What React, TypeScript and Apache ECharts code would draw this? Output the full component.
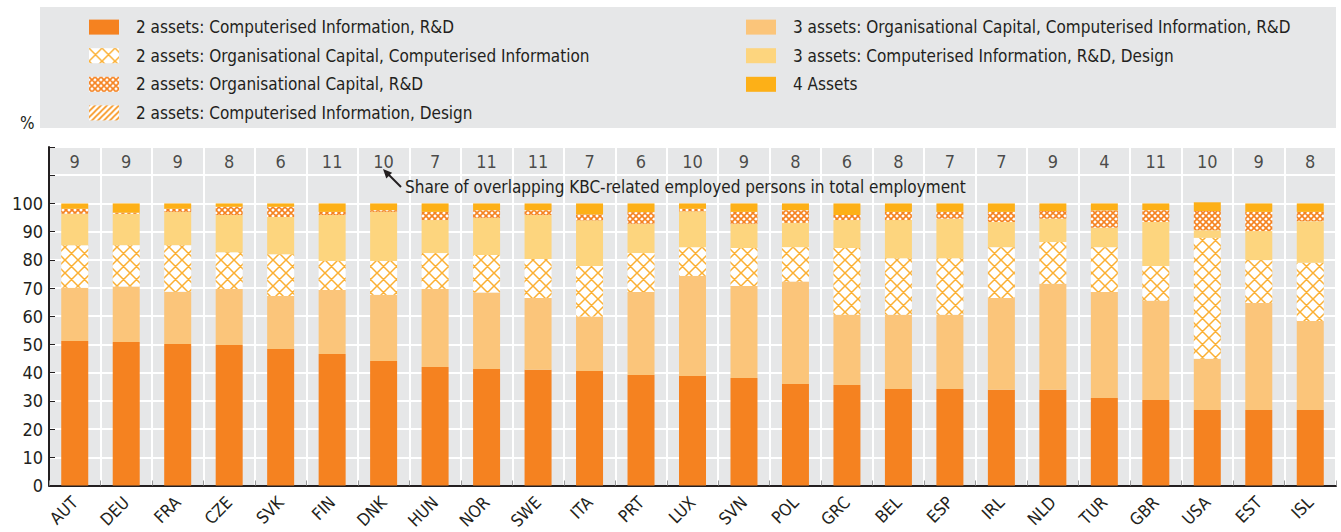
import React, { useEffect, useRef } from "react";
import * as echarts from "echarts";

const categories = ["AUT","DEU","FRA","CZE","SVK","FIN","DNK","HUN","NOR","SWE","ITA","PRT","LUX","SVN","POL","GRC","BEL","ESP","IRL","NLD","TUR","GBR","USA","EST","ISL"];
const overlapShare = [9,9,9,8,6,11,10,7,11,11,7,6,10,9,8,6,8,7,7,9,4,11,10,9,8];

const ciRd = [51.2,50.9,50.2,49.8,48.4,46.6,44.1,42.0,41.3,41.0,40.6,39.2,38.8,38.1,36.0,35.6,34.2,34.2,33.9,33.9,31.0,30.3,26.8,26.8,26.8];
const ocCiRd = [18.9,19.6,18.5,19.9,18.8,22.7,23.5,27.7,27.1,25.5,19.3,29.4,35.5,32.6,36.3,24.9,26.3,26.3,32.6,37.6,37.6,35.2,18.1,37.9,31.5];
const ocCi = [15.1,14.7,16.5,13.0,14.8,10.3,12.0,12.7,13.3,13.8,17.9,13.8,10.2,13.5,12.2,23.7,20.1,20.1,18.0,14.8,15.9,12.3,42.9,15.2,20.7];
const ciRdDesign = [11.1,11.1,11.8,13.2,13.2,16.3,17.4,11.7,13.2,15.6,16.2,10.4,12.7,8.6,8.6,9.9,13.5,14.0,8.9,8.3,6.9,15.6,2.7,10.3,14.7];
const ocRd = [1.8,0.4,1.1,2.9,3.6,1.1,0.6,2.9,2.7,1.7,2.1,4.1,0.9,4.2,4.5,1.8,2.9,2.4,3.6,2.7,6.1,4.2,6.8,6.8,3.3];
const ciDesign = [0,0,0,0,0,0,0,0,0,0,0,0,0,0,0,0,0,0,0,0,0,0,0,0,0];
const fourAssets = [1.9,3.3,1.9,1.2,1.2,3.0,2.4,3.0,2.4,2.4,3.9,3.1,1.9,3.0,2.4,4.1,3.0,3.0,3.0,2.7,2.5,2.4,3.1,3.0,3.0];

const FONT = "'Liberation Sans Narrow', 'Arial Narrow', 'DejaVu Sans Condensed', sans-serif";
const TEXT = "#231f20";
const BG = "#e6e7e8";

function makePattern(size: number, color: string, lw: number, kind: "x" | "diag") {
  const c = document.createElement("canvas");
  c.width = size;
  c.height = size;
  const ctx = c.getContext("2d")!;
  ctx.fillStyle = "#ffffff";
  ctx.fillRect(0, 0, size, size);
  ctx.strokeStyle = color;
  ctx.lineWidth = lw;
  ctx.beginPath();
  ctx.moveTo(-1, size + 1); ctx.lineTo(size + 1, -1);
  ctx.moveTo(-2, 2); ctx.lineTo(2, -2);
  ctx.moveTo(size - 2, size + 2); ctx.lineTo(size + 2, size - 2);
  if (kind === "x") {
    ctx.moveTo(-1, -1); ctx.lineTo(size + 1, size + 1);
    ctx.moveTo(size - 2, -2); ctx.lineTo(size + 2, 2);
    ctx.moveTo(-2, size - 2); ctx.lineTo(2, size + 2);
  }
  ctx.stroke();
  return { image: c, repeat: "repeat" } as any;
}

export default function App() {
  const ref = useRef<HTMLDivElement>(null);
  useEffect(() => {
    if (!ref.current) return;
    const chart = echarts.init(ref.current, null, { renderer: "svg" });
    const crossPat = makePattern(13, "#fbb034", 1.5, "x");
    const finePat = makePattern(6, "#f58220", 1.6, "x");
    const diagPat = makePattern(6, "#f7941d", 1.6, "diag");

    const names = {
      a: "2 assets: Computerised Information, R&D",
      c: "2 assets: Organisational Capital, Computerised Information",
      e: "2 assets: Organisational Capital, R&D",
      f: "2 assets: Computerised Information, Design",
      b: "3 assets: Organisational Capital, Computerised Information, R&D",
      d: "3 assets: Computerised Information, R&D, Design",
      g: "4 Assets",
    };
    const barBase = { type: "bar", stack: "total", barWidth: 27, emphasis: { disabled: true } };
    const legendCommon = {
      orient: "vertical",
      top: 18.6,
      padding: 0,
      itemWidth: 30,
      itemHeight: 15,
      itemGap: 11.6,
      icon: "rect",
      selectedMode: false,
      textStyle: { fontFamily: FONT, fontSize: 17, color: TEXT, padding: [0, 0, 0, 12] },
    };

    chart.setOption({
      animation: false,
      textStyle: { fontFamily: FONT },
      graphic: [
        { type: "rect", left: 40, top: 7, shape: { width: 1296, height: 121 }, style: { fill: BG }, z: -10 },
        { type: "text", left: 20, top: 114, style: { text: "%", fontFamily: FONT, fontSize: 17, fill: TEXT } },
        {
          type: "text", left: 405, top: 178,
          style: {
            text: "Share of overlapping KBC-related employed persons in total employment",
            fontFamily: FONT, fontSize: 17, fill: TEXT,
          },
          z: 20,
        },
        { type: "line", shape: { x1: 401, y1: 187, x2: 388, y2: 174 }, style: { stroke: TEXT, lineWidth: 2 }, z: 20 },
        { type: "polygon", shape: { points: [[383, 169], [392.1, 172.8], [386.3, 178.4]] }, style: { fill: TEXT }, z: 20 },
      ],
      legend: [
        { ...legendCommon, left: 89, data: [names.a, names.c, names.e, names.f] },
        { ...legendCommon, left: 746, data: [names.b, names.d, names.g] },
      ],
      grid: { left: 49, right: 5, top: 147, bottom: 46.5, show: true, backgroundColor: BG, borderWidth: 0 },
      xAxis: {
        type: "category",
        data: categories,
        axisLine: { lineStyle: { color: TEXT, width: 2 } },
        axisTick: { show: true, inside: true, length: 5, lineStyle: { color: "#9a9a9a" } },
        splitLine: { show: true, interval: 0, lineStyle: { color: "#ffffff", width: 2 } },
        axisLabel: { interval: 0, rotate: 45, fontSize: 17, color: TEXT, fontFamily: FONT, margin: 14 },
      },
      yAxis: {
        type: "value",
        min: 0,
        max: 120,
        interval: 10,
        axisLine: { show: true, lineStyle: { color: TEXT, width: 2 } },
        axisTick: { show: true, inside: true, length: 6, lineStyle: { color: TEXT } },
        splitLine: { show: true, lineStyle: { color: "#ffffff", width: 2 } },
        axisLabel: {
          fontSize: 18, color: TEXT, fontFamily: FONT, margin: 6,
          formatter: (v: number) => (v > 100 ? "" : String(v)),
        },
      },
      series: [
        { ...barBase, name: names.a, data: ciRd, itemStyle: { color: "#f58220" } },
        { ...barBase, name: names.b, data: ocCiRd, itemStyle: { color: "#fbc57a" } },
        { ...barBase, name: names.c, data: ocCi, itemStyle: { color: crossPat } },
        { ...barBase, name: names.d, data: ciRdDesign, itemStyle: { color: "#fdd57e" } },
        { ...barBase, name: names.e, data: ocRd, itemStyle: { color: finePat } },
        { ...barBase, name: names.f, data: ciDesign, itemStyle: { color: diagPat } },
        { ...barBase, name: names.g, data: fourAssets, itemStyle: { color: "#fdb017" } },
        {
          type: "scatter",
          name: "overlap",
          data: overlapShare.map((v, i) => [categories[i], 115, v]),
          symbolSize: 1,
          itemStyle: { color: "rgba(0,0,0,0)" },
          label: {
            show: true, position: "inside", fontSize: 18, color: TEXT, fontFamily: FONT,
            formatter: (p: any) => String(p.data[2]),
          },
          emphasis: { disabled: true },
          silent: true,
        },
      ],
    });
    return () => chart.dispose();
  }, []);
  return <div ref={ref} style={{ position: "absolute", left: 0, top: 0, width: 1341, height: 532 }} />;
}
